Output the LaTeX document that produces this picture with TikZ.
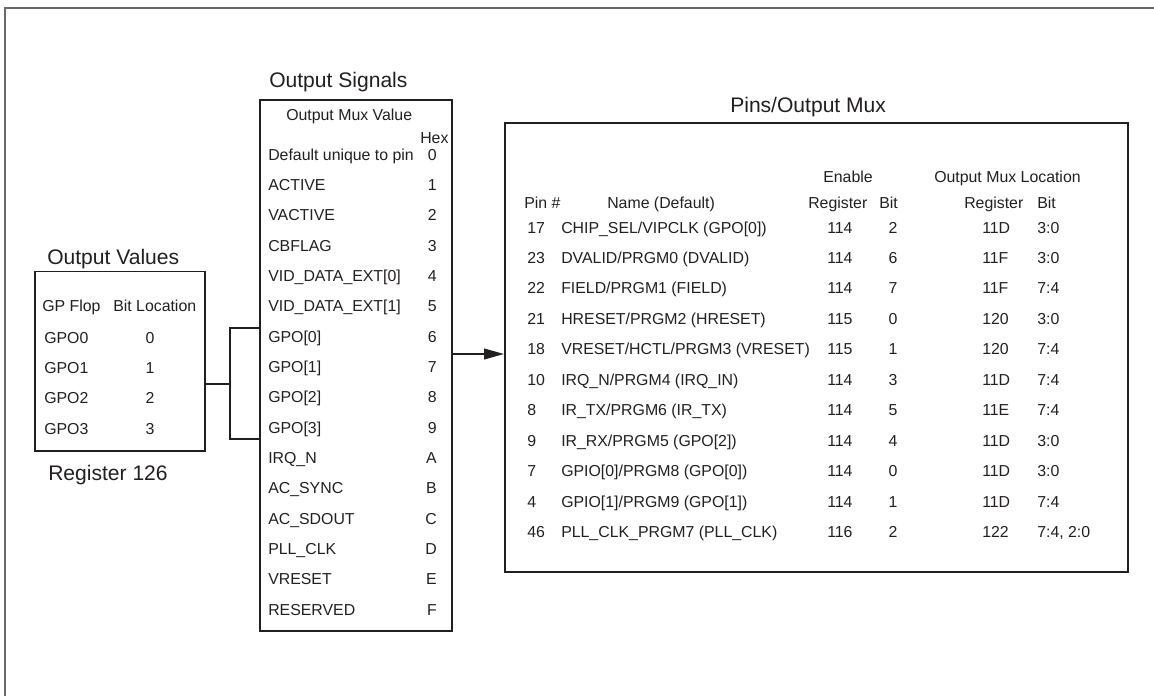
\documentclass[tikz,border=0pt]{standalone}
\usepackage{fontspec}
\setmainfont{Liberation Sans}
\usetikzlibrary{arrows.meta}
\definecolor{inkgray}{RGB}{35,31,32}
\definecolor{framegray}{RGB}{105,105,105}
\tikzset{
  box/.style={draw=inkgray, line width=1.4pt, inner sep=0pt},
  txt/.style={text=inkgray, inner sep=0pt, anchor=base west,
    font=\fontsize{11.9}{14}\selectfont},
  head/.style={text=inkgray, inner sep=0pt, anchor=base west,
    font=\fontsize{15.8}{19}\selectfont},
  wire/.style={draw=inkgray, line width=1.4pt},
  frameline/.style={draw=framegray, line width=1.5pt}
}
\begin{document}
\begin{tikzpicture}[x=0.75pt, y=-0.75pt]
  \useasboundingbox (0,0) rectangle (1154,696);
  \draw[frameline] (1154,8) -- (5,8) -- (5,696);

  % ── Output Values (register 126) ─────────────────────────────────
  \node[box, minimum width=127.5pt, minimum height=134.6pt] (vals) at (120,361.25) {};
  \node[head] (valshd) at (47,264) {Output Values};
  \node[head] (reghd)  at (48,480) {Register 126};
  \node[txt] (gpflop) at (42,311)  {GP Flop};
  \node[txt] (bitloc) at (113,311) {Bit Location};
  \foreach \i in {0,...,3}
    { \node[txt] (gpo\i) at (44,{343+30.4*\i}) {GPO\i};
      \node[txt, anchor=base] (bit\i) at (150,{343+30.4*\i}) {\i}; }

  % ── Output Signals ────────────────────────────────────────────────
  \node[box, minimum width=144pt, minimum height=398.25pt] (sig) at (356,365.5) {};
  \node[head] (sighd) at (269,87)  {Output Signals};
  \node[txt]  (muxv)  at (286,120) {Output Mux Value};
  \node[txt]  (hex)   at (420,143) {Hex};
  \foreach \lbl/\hx [count=\i from 0] in {Default unique to pin/0, ACTIVE/1,
      VACTIVE/2, CBFLAG/3, VID\_DATA\_EXT[0]/4, VID\_DATA\_EXT[1]/5,
      GPO[0]/6, GPO[1]/7, GPO[2]/8, GPO[3]/9, IRQ\_N/A, AC\_SYNC/B,
      AC\_SDOUT/C, PLL\_CLK/D, VRESET/E, RESERVED/F}
    { \node[txt] (s\i) at (268,{160+30.35*\i}) {\lbl};
      \node[txt, anchor=base east] (h\i) at (437,{160+30.35*\i}) {\hx}; }

  % bracket GPO0..3 -> GPO[0]..GPO[3]
  \coordinate (jn)    at (230,384);
  \coordinate (brtop) at (230,328);
  \coordinate (brbot) at (230,439);
  \draw[wire] (vals.east |- jn) -- (jn);
  \draw[wire] (sig.west |- brtop) -- (brtop) -- (brbot) -- (sig.west |- brbot);

  % ── Pins / Output Mux ─────────────────────────────────────────────
  \node[box, minimum width=467.25pt, minimum height=336.75pt] (pins) at (816.5,347.5) {};
  \node[head] (pinshd) at (730,112) {Pins/Output Mux};

  \coordinate (tap) at (480,354);
  \draw[wire, -{Triangle[length=15pt, width=8pt]}] (sig.east |- tap) -- (pins.west |- tap);

  \node[txt] (enhd)   at (823,182)  {Enable};
  \node[txt] (mlochd) at (934,182)  {Output Mux Location};
  \node[txt] (pinno)  at (524,208)  {Pin \#};
  \node[txt] (namehd) at (607,208)  {Name (Default)};
  \node[txt] (ereghd) at (808,208)  {Register};
  \node[txt] (ebithd) at (879,208)  {Bit};
  \node[txt] (mreghd) at (964,208)  {Register};
  \node[txt] (mbithd) at (1037,208) {Bit};

  \foreach \pin/\name/\ereg/\ebit/\mreg/\mbit [count=\i from 0] in {
      17/{CHIP\_SEL/VIPCLK (GPO[0])}/114/2/11D/3:0,
      23/{DVALID/PRGM0 (DVALID)}/114/6/11F/3:0,
      22/{FIELD/PRGM1 (FIELD)}/114/7/11F/7:4,
      21/{HRESET/PRGM2 (HRESET)}/115/0/120/3:0,
      18/{VRESET/HCTL/PRGM3 (VRESET)}/115/1/120/7:4,
      10/{IRQ\_N/PRGM4 (IRQ\_IN)}/114/3/11D/7:4,
      8/{IR\_TX/PRGM6 (IR\_TX)}/114/5/11E/7:4,
      9/{IR\_RX/PRGM5 (GPO[2])}/114/4/11D/3:0,
      7/{GPIO[0]/PRGM8 (GPO[0])}/114/0/11D/3:0,
      4/{GPIO[1]/PRGM9 (GPO[1])}/114/1/11D/7:4,
      46/{PLL\_CLK\_PRGM7 (PLL\_CLK)}/116/2/122/{7:4, 2:0}}
    { \node[txt] (pn\i) at (527,{233+30.47*\i}) {\pin};
      \node[txt] (nm\i) at (561,{233+30.47*\i}) {\name};
      \node[txt] (er\i) at (827,{233+30.47*\i}) {\ereg};
      \node[txt, anchor=base] (eb\i) at (893,{233+30.47*\i}) {\ebit};
      \node[txt] (mr\i) at (982,{233+30.47*\i}) {\mreg};
      \node[txt] (mb\i) at (1037,{233+30.47*\i}) {\mbit}; }
\end{tikzpicture}
\end{document}
